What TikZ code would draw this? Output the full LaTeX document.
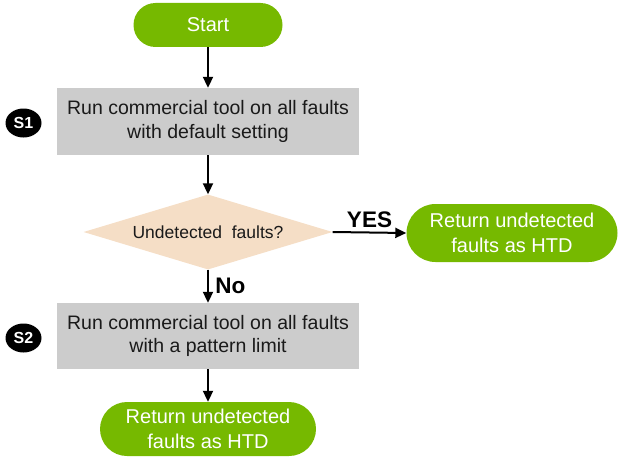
\documentclass[tikz,border=0pt]{standalone}
\usepackage{fontspec}
\setmainfont{Liberation Sans}
\usetikzlibrary{shapes.geometric,arrows.meta}
\definecolor{ngreen}{HTML}{76B900}
\definecolor{boxgray}{HTML}{CCCCCC}
\definecolor{diafill}{HTML}{F5DEC6}
\definecolor{txt}{HTML}{1A1A1A}
\begin{document}
\begin{tikzpicture}[x=1pt,y=-1pt,
  term/.style={draw=none,fill=ngreen,text=white,align=center,font=\fontsize{20}{25}\selectfont,inner sep=0pt},
  procbox/.style={fill=boxgray,minimum width=302pt,minimum height=67pt,align=center,text=txt,font=\fontsize{19.5}{23.5}\selectfont,inner sep=0pt},
  decide/.style={diamond,fill=diafill,minimum width=249pt,minimum height=75pt,aspect=3.3,inner sep=0pt,text=txt,font=\fontsize{17.5}{20}\selectfont},
  badge/.style={ellipse,fill=black,minimum width=36pt,minimum height=29pt,inner sep=0pt,text=white,font=\bfseries\fontsize{16}{17}\selectfont},
  flow/.style={line width=2pt,-{Triangle[length=11pt,width=10pt]}},
  lbl/.style={font=\bfseries\fontsize{22.5}{24}\selectfont,text=black}]
\useasboundingbox (0,0) rectangle (618,460);
\node[term,minimum width=149pt,minimum height=44pt,rounded corners=22pt] (start) at (208,25) {Start};
\node[procbox] (s1) at (208,121.5) {Run commercial tool on all faults\\with default setting};
\node[badge] (b1) at (23.5,123) {S1};
\node[decide] (dec) at (208,232) {Undetected\ \ faults?};
\node[term,minimum width=211pt,minimum height=58pt,rounded corners=29pt] (ret1) at (512,233) {Return undetected\\faults as HTD};
\node[procbox,minimum height=66pt] (s2) at (208,336) {Run commercial tool on all faults\\with a pattern limit};
\node[badge] (b2) at (23.5,338) {S2};
\node[term,minimum width=216pt,minimum height=54pt,rounded corners=27pt] (ret2) at (208,429) {Return undetected\\faults as HTD};
\draw[flow] (start) -- (s1);
\draw[flow] (s1) -- (dec);
\draw[flow] (dec.east) -- (ret1.west) node[lbl,midway,above=0pt] {YES};
\draw[flow] (dec) -- (s2) node[lbl,midway,right=3pt] {No};
\draw[flow] (s2) -- (ret2);
\end{tikzpicture}
\end{document}
